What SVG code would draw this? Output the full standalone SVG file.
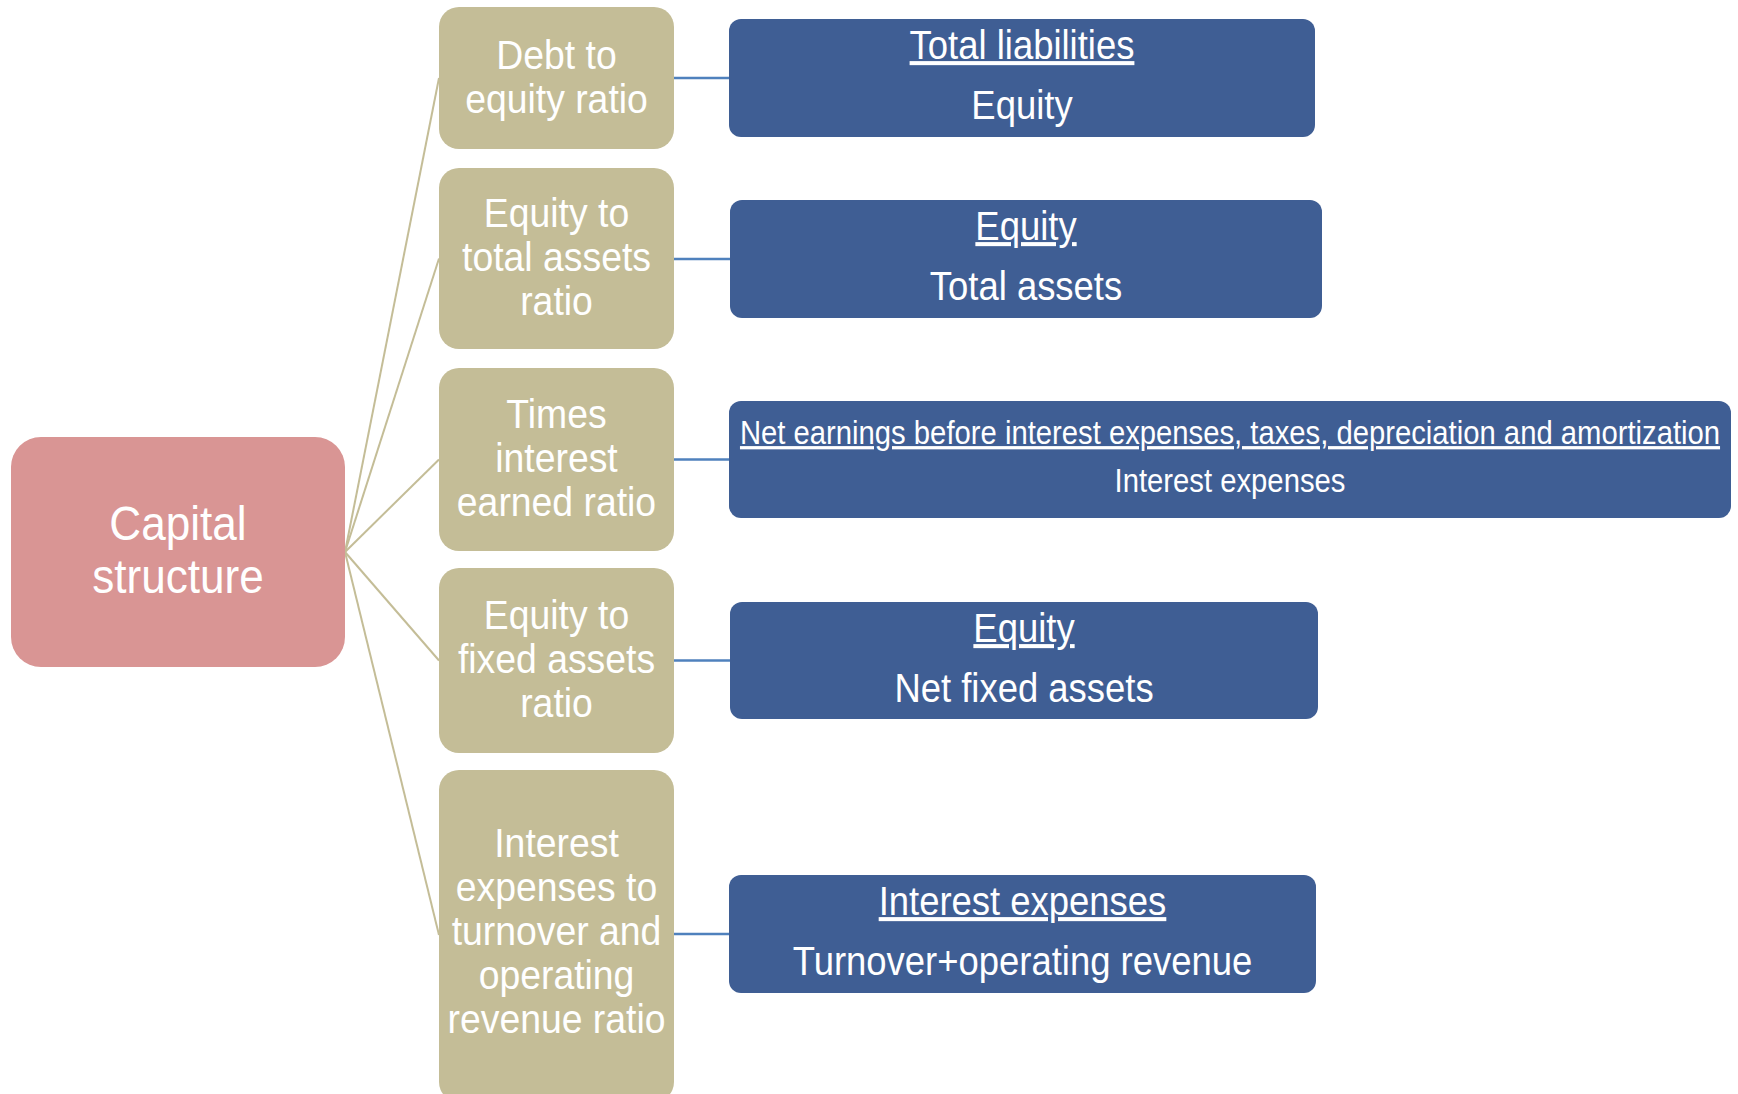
<svg xmlns="http://www.w3.org/2000/svg" width="1738" height="1094" viewBox="0 0 1738 1094">
<style>
text{font-family:"Liberation Sans",Arial,sans-serif;fill:#ffffff;text-anchor:middle}
.root{fill:#d99594}
.cat{fill:#c4bd97}
.frm{fill:#3f5e94}
.t41{font-size:41.5px}
.t40{font-size:40.5px}
.t32{font-size:32.5px}
.t49{font-size:49px}
.u{text-decoration:underline}
.lc{stroke:#c4bd97;stroke-width:2;fill:none}
.lb{stroke:#4f81bd;stroke-width:2.5;fill:none}
</style>
<rect width="1738" height="1094" fill="#ffffff"/>
<g id="connectors">
<line class="lc" x1="345" y1="552" x2="439" y2="78"/>
<line class="lc" x1="345" y1="552" x2="439" y2="258.5"/>
<line class="lc" x1="345" y1="552" x2="439" y2="459.5"/>
<line class="lc" x1="345" y1="552" x2="439" y2="660.5"/>
<line class="lc" x1="345" y1="552" x2="439" y2="935"/>
<line class="lb" x1="674" y1="78" x2="729" y2="78"/>
<line class="lb" x1="674" y1="259" x2="730" y2="259"/>
<line class="lb" x1="674" y1="459.5" x2="729" y2="459.5"/>
<line class="lb" x1="674" y1="660.5" x2="730" y2="660.5"/>
<line class="lb" x1="674" y1="934" x2="729" y2="934"/>
</g>
<g id="capital-structure">
<rect class="root" x="11" y="437" width="334" height="230" rx="30"/>
<g transform="translate(178 0) scale(0.9 1)">
<text class="t49" x="0" y="540">Capital</text>
<text class="t49" x="0" y="593">structure</text>
</g>
</g>
<g id="debt-to-equity">
<rect class="cat" x="439" y="7" width="235" height="142" rx="20"/>
<g transform="translate(556.5 0) scale(0.9 1)">
<text class="t41" x="0" y="69">Debt to</text>
<text class="t41" x="0" y="113">equity ratio</text>
</g>
</g>
<g id="equity-to-total-assets">
<rect class="cat" x="439" y="168" width="235" height="181" rx="20"/>
<g transform="translate(556.5 0) scale(0.9 1)">
<text class="t41" x="0" y="227.5">Equity to</text>
<text class="t41" x="0" y="271.5">total assets</text>
<text class="t41" x="0" y="315.5">ratio</text>
</g>
</g>
<g id="times-interest-earned">
<rect class="cat" x="439" y="368" width="235" height="183" rx="20"/>
<g transform="translate(556.5 0) scale(0.9 1)">
<text class="t41" x="0" y="428.5">Times</text>
<text class="t41" x="0" y="472.5">interest</text>
<text class="t41" x="0" y="516.5">earned ratio</text>
</g>
</g>
<g id="equity-to-fixed-assets">
<rect class="cat" x="439" y="568" width="235" height="185" rx="20"/>
<g transform="translate(556.5 0) scale(0.9 1)">
<text class="t41" x="0" y="629.5">Equity to</text>
<text class="t41" x="0" y="673.5">fixed assets</text>
<text class="t41" x="0" y="717.5">ratio</text>
</g>
</g>
<g id="interest-to-turnover">
<rect class="cat" x="439" y="770" width="235" height="332" rx="20"/>
<g transform="translate(556.5 0) scale(0.9 1)">
<text class="t41" x="0" y="857">Interest</text>
<text class="t41" x="0" y="901">expenses to</text>
<text class="t41" x="0" y="945">turnover and</text>
<text class="t41" x="0" y="989">operating</text>
<text class="t41" x="0" y="1033">revenue ratio</text>
</g>
</g>
<g id="formula-debt-equity">
<rect class="frm" x="729" y="19" width="586" height="118" rx="12"/>
<g transform="translate(1022 0) scale(0.9 1)">
<text class="t40 u" x="0" y="59">Total liabilities</text>
<text class="t40" x="0" y="119">Equity</text>
</g>
</g>
<g id="formula-equity-assets">
<rect class="frm" x="730" y="200" width="592" height="118" rx="12"/>
<g transform="translate(1026 0) scale(0.9 1)">
<text class="t40 u" x="0" y="240">Equity</text>
<text class="t40" x="0" y="300">Total assets</text>
</g>
</g>
<g id="formula-times-interest">
<rect class="frm" x="729" y="401" width="1002" height="117" rx="12"/>
<g transform="translate(1230 0) scale(0.9 1)">
<text class="t32 u" x="0" y="444">Net earnings before interest expenses, taxes, depreciation and amortization</text>
<text class="t32" x="0" y="492">Interest expenses</text>
</g>
</g>
<g id="formula-equity-fixed">
<rect class="frm" x="730" y="602" width="588" height="117" rx="12"/>
<g transform="translate(1024 0) scale(0.9 1)">
<text class="t40 u" x="0" y="642">Equity</text>
<text class="t40" x="0" y="702">Net fixed assets</text>
</g>
</g>
<g id="formula-interest-turnover">
<rect class="frm" x="729" y="875" width="587" height="118" rx="12"/>
<g transform="translate(1022.5 0) scale(0.9 1)">
<text class="t40 u" x="0" y="915">Interest expenses</text>
<text class="t40" x="0" y="975">Turnover+operating revenue</text>
</g>
</g>
</svg>
